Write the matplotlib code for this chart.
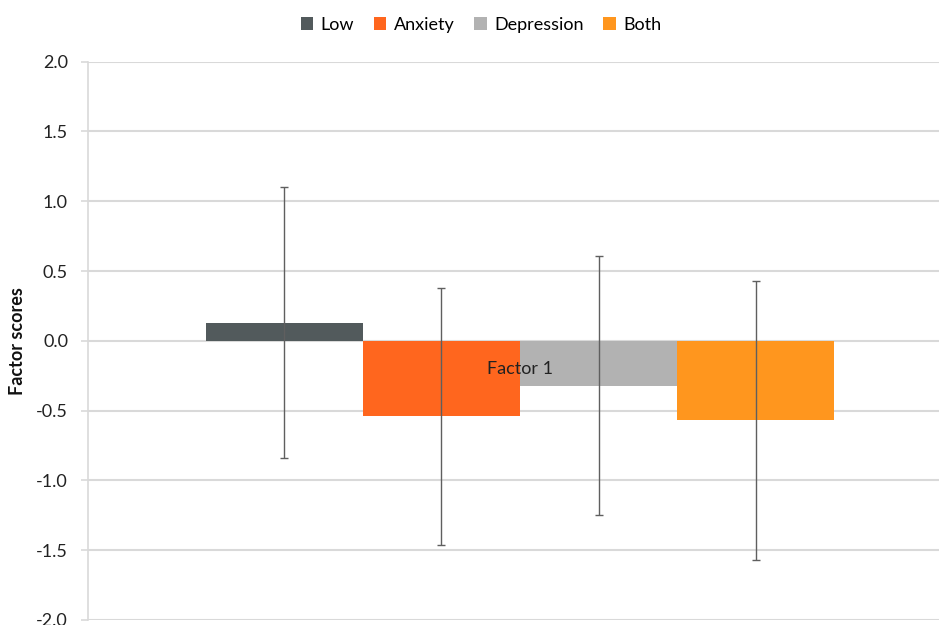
import matplotlib
matplotlib.use("Agg")
import matplotlib.pyplot as plt
import numpy as np

plt.rcParams['font.family'] = ['Lato', 'DejaVu Sans']

# Group means and error bar half-widths for the single factor
groups = ["Low", "Anxiety", "Depression", "Both"]
means = [0.13, -0.54, -0.32, -0.57]
errors = [0.97, 0.92, 0.93, 1.00]
colors = ["#525A5C", "#FF661E", "#B2B2B2", "#FF961E"]
category = "Factor 1"
yticks = [-2.0, -1.5, -1.0, -0.5, 0.0, 0.5, 1.0, 1.5, 2.0]

W, H = 939, 625
fig = plt.figure(figsize=(W / 100, H / 100), dpi=100)
ax = fig.add_axes([88 / W, 1 - 620 / H, 864 / W, (620 - 61.7) / H])

n = len(groups)
width = 1.0
offsets = (np.arange(n) - (n - 1) / 2) * width
for off, m, e, c, g in zip(offsets, means, errors, colors, groups):
    ax.bar(off, m, width=width, color=c, label=g, zorder=2)
    ax.errorbar(off, m, yerr=e, fmt="none", ecolor="#5f5f5f", elinewidth=1.0,
                capsize=3, capthick=1.0, zorder=3)

ax.set_xlim(-2.75, 2.75)
ax.set_ylim(-2.0, 2.0)
ax.set_yticks(yticks)
ax.set_yticklabels([f"{t:.1f}" for t in yticks])
ax.yaxis.grid(True, color="#D9D9D9", linewidth=1.5, zorder=0)
ax.set_axisbelow(True)
ax.tick_params(axis="y", length=5, width=1.2, color="#D9D9D9", pad=9.4,
               labelsize=13, labelcolor="#222222")
ax.tick_params(axis="x", bottom=False, labelbottom=False)
for side in ["top", "right", "bottom"]:
    ax.spines[side].set_visible(False)
ax.spines["left"].set_color("#D9D9D9")
ax.spines["left"].set_linewidth(1.2)

ax.text(0, -0.2, category, ha="center", va="center", fontsize=13,
        color="#222222", zorder=4)

ax.set_ylabel("Factor scores", fontsize=13, fontweight="bold", color="#111111")
ax.yaxis.set_label_coords(-62 / 864, 0.5)

fig.legend(loc="center", bbox_to_anchor=(481 / W, 1 - 25 / H), ncol=4,
           frameon=False, fontsize=13, handlelength=0.7, handleheight=0.7,
           handletextpad=0.4, columnspacing=1.1)

fig.savefig("out.png", dpi=100)
